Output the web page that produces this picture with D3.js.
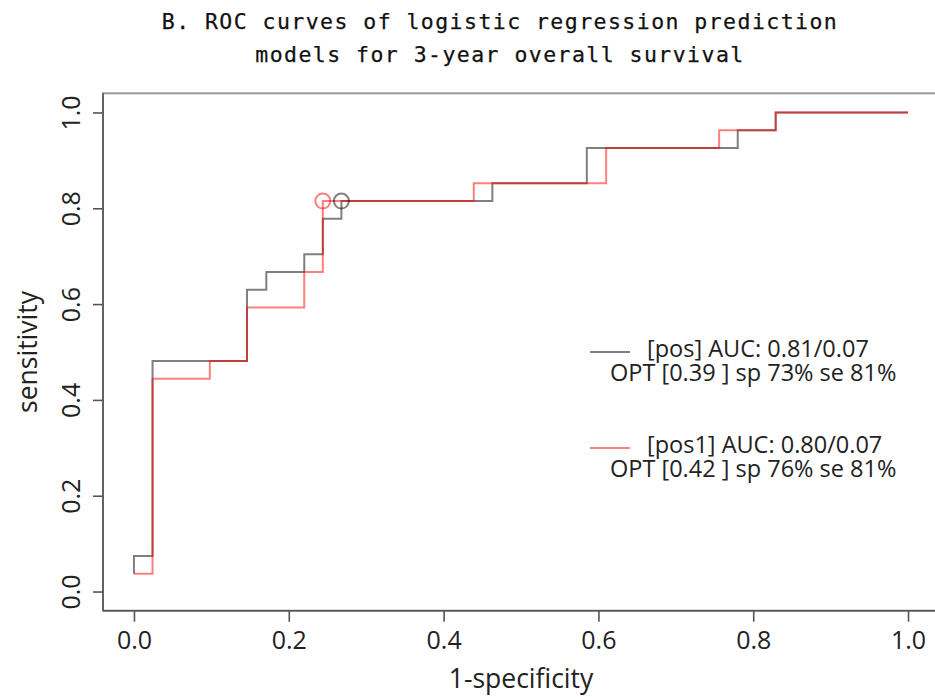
<!DOCTYPE html>
<meta charset="utf-8">
<script src="https://d3js.org/d3.v7.min.js"></script>
<body style="margin:0; background:#fff">
<div id="graph"></div>
</body>
<script>

    // ROC vertices (1-specificity, sensitivity)
    var posFpr = [0, 0, 0.024, 0.146, 0.171, 0.220, 0.244, 0.268, 0.463, 0.585, 0.780, 0.829, 1.0];
    var posTpr = [0.037, 0.074, 0.481, 0.630, 0.667, 0.704, 0.778, 0.815, 0.852, 0.926, 0.963, 1.0, 1.0];
    var pos1Fpr = [0, 0.024, 0.098, 0.146, 0.220, 0.244, 0.439, 0.610, 0.756, 0.829, 1.0];
    var pos1Tpr = [0.037, 0.444, 0.481, 0.593, 0.667, 0.815, 0.852, 0.926, 0.963, 1.0, 1.0];

    // optimal cut-off points
    var optPoints = [[0.268, 0.815], [0.244, 0.815]];

    var ticks = [0, 0.2, 0.4, 0.6, 0.8, 1.0];
    var legendLines = [
        ["[pos] AUC: 0.81/0.07", "OPT [0.39 ] sp 73% se 81%"],
        ["[pos1] AUC: 0.80/0.07", "OPT [0.42 ] sp 76% se 81%"]
    ];
    var colors = ["rgba(0,0,0,0.5)", "rgba(255,0,0,0.5)"];

    var width = 935, height = 697;
    var textFont = "'Open Sans', sans-serif";

    var svg = d3.select("#graph")
        .append("svg")
        .attr("width", width)
        .attr("height", height)
        .style("font-family", textFont);

    // Scales (R style: 4% padding round the data range)
    var x = d3.scaleLinear().domain([-0.04, 1.04]).range([103, 939]);
    var y = d3.scaleLinear().domain([-0.04, 1.04]).range([610.7, 93.3]);

    // Title
    svg.append("g")
        .selectAll("text")
        .data(["B. ROC curves of logistic regression prediction", "models for 3-year overall survival"])
        .enter()
        .append("text")
        .attr("x", 500)
        .attr("y", function (d, i) { return 29 + i * 33; })
        .attr("text-anchor", "middle")
        .style("font-family", "'DejaVu Sans Mono', monospace")
        .style("font-size", "21.5px")
        .style("letter-spacing", "1.45px")
        .style("fill", "#111")
        .style("stroke", "#111")
        .style("stroke-width", 0.25)
        .text(function (d) { return d; });

    // Box
    svg.append("rect")
        .attr("x", x(-0.04))
        .attr("y", y(1.04))
        .attr("width", x(1.04) - x(-0.04))
        .attr("height", y(-0.04) - y(1.04))
        .style("fill", "none")
        .style("stroke", "#999")
        .style("stroke-width", 2);

    // X axis
    var xAxis = svg.append("g")
        .attr("transform", "translate(0," + y(-0.04) + ")")
        .call(d3.axisBottom(x).tickValues(ticks).tickFormat(d3.format(".1f")).tickSizeOuter(0).tickSize(11).tickPadding(8));

    // Y axis
    var yAxis = svg.append("g")
        .attr("transform", "translate(" + x(-0.04) + ",0)")
        .call(d3.axisLeft(y).tickValues(ticks).tickFormat(d3.format(".1f")).tickSizeOuter(0).tickSize(10));

    xAxis.select(".domain").attr("d", "M" + x(-0.04) + ",0H" + x(1.04));
    yAxis.select(".domain").attr("d", "M0," + y(-0.04) + "V" + y(1.04));
    svg.selectAll(".domain, .tick line").style("stroke", "#555").style("stroke-width", 1.6);
    xAxis.selectAll("text")
        .attr("y", null).attr("dy", null)
        .attr("transform", "translate(0,38)")
        .style("font-family", textFont)
        .style("font-size", "25px")
        .style("fill", "#222");
    yAxis.selectAll("text")
        .attr("x", null).attr("dy", null)
        .attr("text-anchor", "middle")
        .attr("transform", "translate(-23,0) rotate(-90)")
        .style("font-family", textFont)
        .style("font-size", "25px")
        .style("fill", "#222");

    // Axis labels
    svg.append("text")
        .attr("x", x(0.5))
        .attr("y", 688)
        .attr("text-anchor", "middle")
        .style("font-size", "26.5px")
        .style("fill", "#222")
        .text("1-specificity");

    svg.append("text")
        .attr("transform", "translate(37," + y(0.5) + ") rotate(-90)")
        .attr("text-anchor", "middle")
        .style("font-size", "26.5px")
        .style("fill", "#222")
        .text("sensitivity");

    // ROC curves
    var line = d3.line()
        .x(function (d) { return x(d[0]); })
        .y(function (d) { return y(d[1]); })
        .curve(d3.curveStepAfter);

    var curves = [d3.zip(posFpr, posTpr), d3.zip(pos1Fpr, pos1Tpr)];

    svg.append("g")
        .selectAll("path")
        .data(curves)
        .enter()
        .append("path")
        .attr("d", line)
        .style("fill", "none")
        .style("stroke", function (d, i) { return colors[i]; })
        .style("stroke-width", 2);

    // Optimal points
    svg.append("g")
        .selectAll("circle")
        .data(optPoints)
        .enter()
        .append("circle")
        .attr("cx", function (d) { return x(d[0]); })
        .attr("cy", function (d) { return y(d[1]); })
        .attr("r", 7.5)
        .style("fill", "none")
        .style("stroke", function (d, i) { return colors[i]; })
        .style("stroke-width", 2);

    // Legend
    var legend = svg.append("g")
        .selectAll("g")
        .data(legendLines)
        .enter()
        .append("g")
        .attr("transform", function (d, i) { return "translate(0," + (i * 96) + ")"; });

    legend.append("line")
        .attr("x1", 590).attr("x2", 630)
        .attr("y1", 352).attr("y2", 352)
        .style("stroke", function (d, i) { return colors[i]; })
        .style("stroke-width", 2);

    legend.append("text")
        .attr("x", 647)
        .attr("y", 357)
        .style("font-size", "23.5px")
        .style("fill", "#222")
        .text(function (d) { return d[0]; });

    legend.append("text")
        .attr("x", 610)
        .attr("y", 380.5)
        .style("font-size", "23.5px")
        .style("fill", "#222")
        .text(function (d) { return d[1]; });

</script>
